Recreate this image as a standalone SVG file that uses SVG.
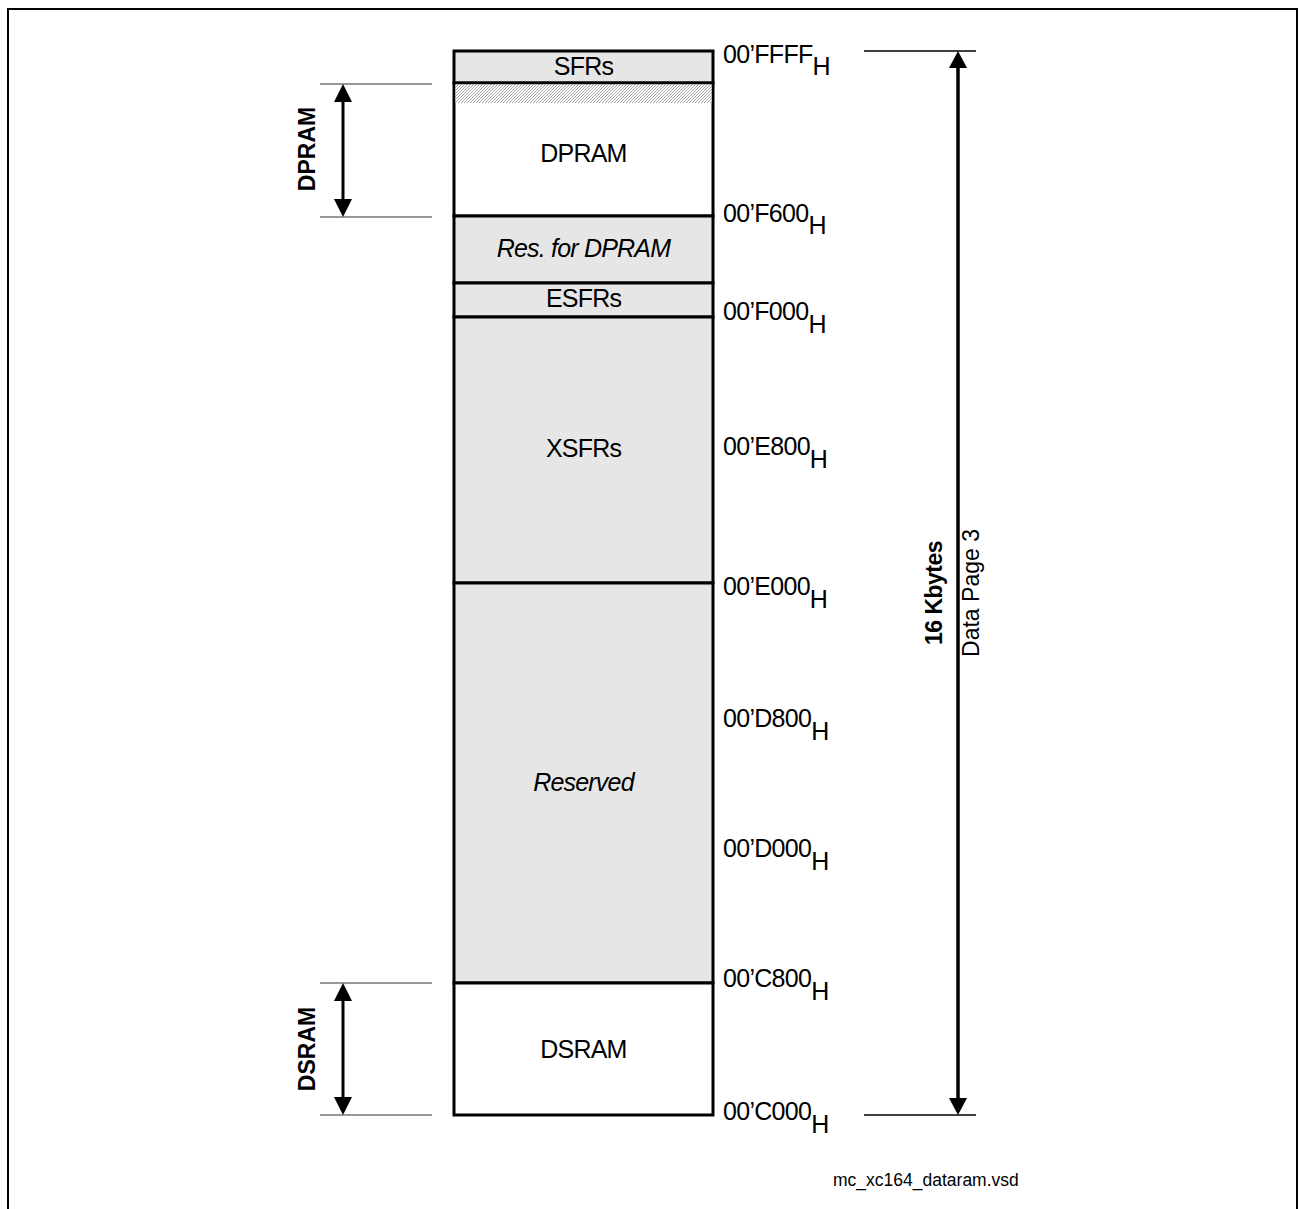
<svg xmlns="http://www.w3.org/2000/svg" width="1299" height="1209" viewBox="0 0 1299 1209">
<style>
text{font-family:"Liberation Sans",Arial,sans-serif;fill:#000}
.blk{stroke:#000;stroke-width:3}
.g{fill:#e6e6e6}
.w{fill:#fff}
.lbl{font-size:25px;text-anchor:middle;letter-spacing:-0.8px}
.it{font-style:italic}
.addr{font-size:25px;letter-spacing:-0.7px}
.side{font-size:23px;font-weight:bold;text-anchor:middle}
.tick{stroke:#333;stroke-width:1.2}
.rtick{stroke:#000;stroke-width:1.6}
</style>
<defs>
<pattern id="hatch" patternUnits="userSpaceOnUse" width="3" height="3">
<rect width="3" height="3" fill="#fff"/>
<path d="M-1,1 L1,-1 M0,3 L3,0 M2,4 L4,2" stroke="#888" stroke-width="0.8"/>
</pattern>
<marker id="ahBig" markerUnits="userSpaceOnUse" markerWidth="17" markerHeight="18" refX="9" refY="9" orient="auto-start-reverse" viewBox="0 0 17 18">
<path d="M0,0 L17,9 L0,18 z" fill="#000"/>
</marker>
<marker id="ahSm" markerUnits="userSpaceOnUse" markerWidth="18" markerHeight="18" refX="10" refY="9" orient="auto-start-reverse" viewBox="0 0 18 18">
<path d="M0,0 L18,9 L0,18 z" fill="#000"/>
</marker>
</defs>
<rect width="1299" height="1209" fill="#fff"/>
<path d="M8,1209 V9 H1297 V1209" fill="none" stroke="#000" stroke-width="2"/>

<g id="sfrs">
<rect class="g blk" x="454" y="51" width="259" height="32"/>
<text class="lbl" x="583.5" y="75">SFRs</text>
</g>
<g id="dpram">
<rect class="w blk" x="454" y="83" width="259" height="133"/>
<rect x="455.5" y="84.5" width="256" height="18.5" fill="url(#hatch)"/>
<text class="lbl" x="583.5" y="162">DPRAM</text>
</g>
<g id="res-dpram">
<rect class="g blk" x="454" y="216" width="259" height="67"/>
<text class="lbl it" x="583.5" y="257">Res. for DPRAM</text>
</g>
<g id="esfrs">
<rect class="g blk" x="454" y="283" width="259" height="34"/>
<text class="lbl" x="583.5" y="307">ESFRs</text>
</g>
<g id="xsfrs">
<rect class="g blk" x="454" y="317" width="259" height="266"/>
<text class="lbl" x="583.5" y="457">XSFRs</text>
</g>
<g id="reserved">
<rect class="g blk" x="454" y="583" width="259" height="400"/>
<text class="lbl it" x="583.5" y="791">Reserved</text>
</g>
<g id="dsram">
<rect class="w blk" x="454" y="983" width="259" height="132"/>
<text class="lbl" x="583.5" y="1058">DSRAM</text>
</g>

<g id="addresses" class="addr">
<text x="723" y="63">00’FFFF<tspan dy="12">H</tspan></text>
<text x="723" y="222">00’F600<tspan dy="12">H</tspan></text>
<text x="723" y="320">00’F000<tspan dy="13">H</tspan></text>
<text x="723" y="455">00’E800<tspan dy="13">H</tspan></text>
<text x="723" y="595">00’E000<tspan dy="13">H</tspan></text>
<text x="723" y="727">00’D800<tspan dy="13">H</tspan></text>
<text x="723" y="857">00’D000<tspan dy="13">H</tspan></text>
<text x="723" y="987">00’C800<tspan dy="13">H</tspan></text>
<text x="723" y="1120">00’C000<tspan dy="13">H</tspan></text>
</g>

<g id="connectors">
<line class="tick" x1="320" y1="84" x2="432" y2="84"/>
<line class="tick" x1="320" y1="217" x2="432" y2="217"/>
<line x1="343" y1="92" x2="343" y2="209" stroke="#000" stroke-width="3" marker-start="url(#ahSm)" marker-end="url(#ahSm)"/>
<line class="tick" x1="320" y1="983" x2="432" y2="983"/>
<line class="tick" x1="320" y1="1115" x2="432" y2="1115"/>
<line x1="343" y1="991" x2="343" y2="1107" stroke="#000" stroke-width="3" marker-start="url(#ahSm)" marker-end="url(#ahSm)"/>
<line class="rtick" x1="864" y1="51" x2="976" y2="51"/>
<line class="rtick" x1="864" y1="1115" x2="976" y2="1115"/>
<line x1="958" y1="59" x2="958" y2="1107" stroke="#000" stroke-width="3.5" marker-start="url(#ahBig)" marker-end="url(#ahBig)"/>
</g>

<g id="side-labels">
<text class="side" transform="translate(315,149) rotate(-90)">DPRAM</text>
<text class="side" transform="translate(315,1049) rotate(-90)">DSRAM</text>
<text class="side" transform="translate(942,593) rotate(-90)" style="letter-spacing:-0.5px">16 Kbytes</text>
<text transform="translate(979,593) rotate(-90)" style="font-size:23px;text-anchor:middle">Data Page 3</text>
</g>

<text x="833" y="1186" style="font-size:17.5px">mc_xc164_dataram.vsd</text>
</svg>
